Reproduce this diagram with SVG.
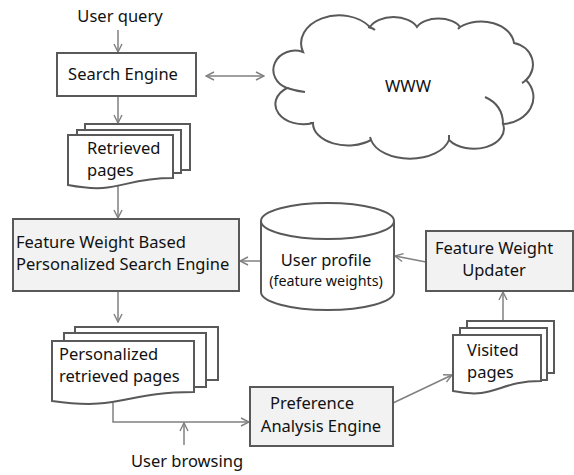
<svg xmlns="http://www.w3.org/2000/svg" width="574" height="475" viewBox="0 0 574 475">
<style>
.t{font-family:"Noto Sans","Open Sans","DejaVu Sans",sans-serif;font-size:16.5px;fill:#111}
.s{font-size:14.3px}
.box{stroke:#595959;stroke-width:2}
.doc{fill:#fff;stroke:#595959;stroke-width:2}
.ln{fill:none;stroke:#808080;stroke-width:1.5}
</style>
<defs>
<marker id="a" viewBox="0 0 10 10" refX="9" refY="5" markerWidth="10" markerHeight="10" markerUnits="userSpaceOnUse" orient="auto-start-reverse">
<path d="M1,1 L9,5 L1,9" fill="none" stroke="#808080" stroke-width="1.4"/>
</marker>
</defs>
<rect width="574" height="475" fill="#fff"/>
<g id="connectors">
<path class="ln" d="M118,30 V52" marker-end="url(#a)"/>
<path class="ln" d="M206,76 H264" marker-start="url(#a)" marker-end="url(#a)"/>
<path class="ln" d="M118,96 V123" marker-end="url(#a)"/>
<path class="ln" d="M118,186 V218" marker-end="url(#a)"/>
<path class="ln" d="M261,261 H240" marker-end="url(#a)"/>
<path class="ln" d="M118,291 V322" marker-end="url(#a)"/>
<path class="ln" d="M113,403 V422 H249" marker-end="url(#a)"/>
<path class="ln" d="M184,445 V423" marker-end="url(#a)"/>
<path class="ln" d="M393,403 L452,375" marker-end="url(#a)"/>
<path class="ln" d="M503,321 V292" marker-end="url(#a)"/>
<path class="ln" d="M426,262 L395,256" marker-end="url(#a)"/>
</g>
<g id="user-query"><text class="t" x="120" y="22" text-anchor="middle">User query</text></g>
<g id="search-engine">
<rect class="box" x="57" y="53" width="139" height="43" fill="#fff"/>
<text class="t" x="123" y="80" text-anchor="middle">Search Engine</text>
</g>
<g id="www">
<path d="M303,52 A38,28 0 0 1 370,27 A25,15 0 0 1 417,27 A23,13 0 0 1 460,27 A33,24 0 0 1 514,43 A24,22 0 0 1 526,80 A33,27 0 0 1 503,124 A30,20 0 0 1 449,140 A40,24 0 0 1 371,140 A35,22 0 0 1 313,123 A28,20 0 0 1 287,88 A19,17 0 0 1 303,52 Z" fill="#fff" stroke="#595959" stroke-width="2"/>
<path d="M368,27 Q373,28 375,30 M460,27 Q459,28 458,29 M526,80 Q524,82 522,83 M503,124 Q503,105 485,97 M449,140 L449,135 M371,140 L370,137 M313,123 L310,123 M287,88 Q296,91 305,92" fill="none" stroke="#595959" stroke-width="2"/>
<text class="t" x="408" y="92" text-anchor="middle">WWW</text>
</g>
<g id="retrieved-pages">
<rect class="doc" x="85" y="124" width="105" height="46"/>
<rect class="doc" x="77" y="130" width="104" height="43"/>
<path class="doc" d="M68,135 H173 V178 C120.5,178 120.5,195 68,185 Z"/>
<text class="t" x="87" y="154">Retrieved</text>
<text class="t" x="87" y="176">pages</text>
</g>
<g id="fw-search-engine">
<rect class="box" x="13" y="219" width="226" height="72" fill="#f2f2f2"/>
<text class="t" x="16" y="248">Feature Weight Based</text>
<text class="t" x="16" y="270">Personalized Search Engine</text>
</g>
<g id="user-profile">
<path class="box" d="M261,221 V292 A66.5,18 0 0 0 394,292 V221" fill="#fff"/>
<ellipse class="box" cx="327.5" cy="221" rx="66.5" ry="18" fill="#fff"/>
<text class="t" x="326" y="266" text-anchor="middle">User profile</text>
<text class="t s" x="326" y="286" text-anchor="middle">(feature weights)</text>
</g>
<g id="fw-updater">
<rect class="box" x="426" y="231" width="147" height="60" fill="#f2f2f2"/>
<text class="t" x="494" y="254" text-anchor="middle">Feature Weight</text>
<text class="t" x="494" y="276" text-anchor="middle">Updater</text>
</g>
<g id="personalized-pages">
<rect class="doc" x="75" y="327" width="143" height="53"/>
<rect class="doc" x="64" y="333" width="142" height="54"/>
<path class="doc" d="M52,341 H194 V392 C123,392 123,411 52,401 Z"/>
<text class="t" x="59" y="360">Personalized</text>
<text class="t" x="59" y="382">retrieved pages</text>
</g>
<g id="user-browsing"><text class="t" x="187" y="467" text-anchor="middle">User browsing</text></g>
<g id="preference-engine">
<rect class="box" x="250" y="387" width="143" height="59" fill="#f2f2f2"/>
<text class="t" x="312" y="409" text-anchor="middle">Preference</text>
<text class="t" x="321" y="432" text-anchor="middle">Analysis Engine</text>
</g>
<g id="visited-pages">
<rect class="doc" x="467" y="321" width="87" height="52"/>
<rect class="doc" x="460" y="328" width="87" height="52"/>
<path class="doc" d="M453,335 H541 V381 C497,381 497,400 453,391 Z"/>
<text class="t" x="467" y="356">Visited</text>
<text class="t" x="467" y="378">pages</text>
</g>
</svg>
